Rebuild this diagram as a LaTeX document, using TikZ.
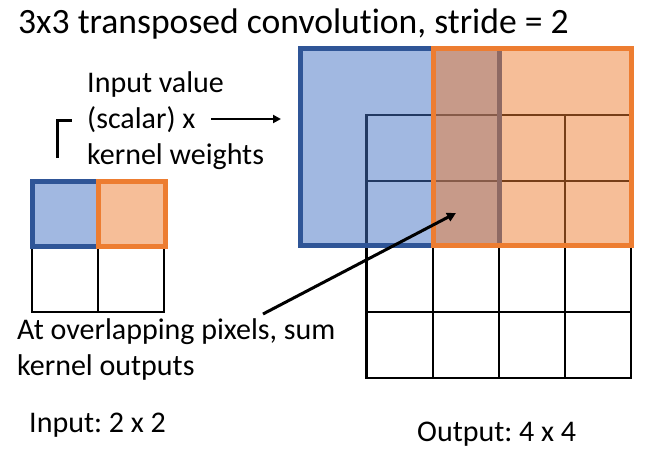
\documentclass[tikz,border=0pt]{standalone}
\usepackage{fontspec}
\setmainfont{Carlito}[Ligatures=NoCommon]
\usetikzlibrary{arrows.meta}
\usepackage{xcolor}
\definecolor{KernelBlue}{HTML}{4472C4}
\definecolor{KernelBlueDark}{HTML}{2F5597}
\definecolor{KernelOrange}{HTML}{ED7D31}
\frenchspacing

\begin{document}
\begin{tikzpicture}[x=1pt, y=-1pt,
    gridline/.style={draw=black, line width=2.2pt},
    kernelbox/.style={rectangle, inner sep=0pt, outer sep=0pt, line width=5pt, fill opacity=0.5},
    txt/.style={font=\fontsize{30}{36}\selectfont, inner sep=0pt, align=left, anchor=base west},
    titletxt/.style={font=\fontsize{35.6}{42}\selectfont, inner sep=0pt, anchor=base west}]
    \useasboundingbox (0,0) rectangle (653,451);

    % Title
    \node[titletxt] (title) at (18,33) {3x3 transposed convolution, stride = 2};

    % Output grid (4 x 4)
    \foreach \i in {0,...,3} {
        \foreach \j in {0,...,3} {
            \draw[gridline] (366.5+66.1*\i, 115+65.7*\j) rectangle ++(66.1,65.7);
        }
    }

    % Kernel outputs on top of the output grid
    \node[kernelbox, draw=KernelBlueDark, fill=KernelBlue, minimum width=198.5pt, minimum height=197.5pt] (outblue) at (399.75,146.75) {};
    \node[kernelbox, draw=KernelOrange, fill=KernelOrange, minimum width=198pt, minimum height=197.5pt] (outorange) at (532,146.75) {};

    % Input grid (2 x 2)
    \foreach \i in {0,1} {
        \foreach \j in {0,1} {
            \draw[gridline] (32+66*\i, 181+65.5*\j) rectangle ++(66,65.5);
        }
    }
    \node[kernelbox, draw=KernelBlueDark, fill=KernelBlue, minimum width=66pt, minimum height=65.5pt] (inblue) at (65,213.75) {};
    \node[kernelbox, draw=KernelOrange, fill=KernelOrange, minimum width=67pt, minimum height=65.5pt] (inorange) at (131.5,213.75) {};

    % Labels (base = last line)
    \node[txt] (scalar) at (87,164) {Input value\\(scalar) x\\kernel weights};
    \node[txt] (overlap) at (17,375) {At overlapping pixels, sum\\kernel outputs};
    \node[txt] (insize) at (29,432) {Input: 2 x 2};
    \node[txt] (outsize) at (417,441) {Output: 4 x 4};

    % Bracket and arrows
    \draw[line width=3pt] (57,158) -- (57,120) -- (72,120);
    \coordinate (scalarend) at (211,119);
    \coordinate (scalartip) at (281,119);
    \draw[-{Triangle[length=8pt, width=8pt]}, line width=2pt] (scalarend) -- (scalartip);
    \coordinate (overlapend) at (263,314);
    \coordinate (overlaptip) at (456,213);
    \draw[-{Triangle[length=9pt, width=9pt]}, line width=3pt] (overlapend) -- (overlaptip);
\end{tikzpicture}
\end{document}
